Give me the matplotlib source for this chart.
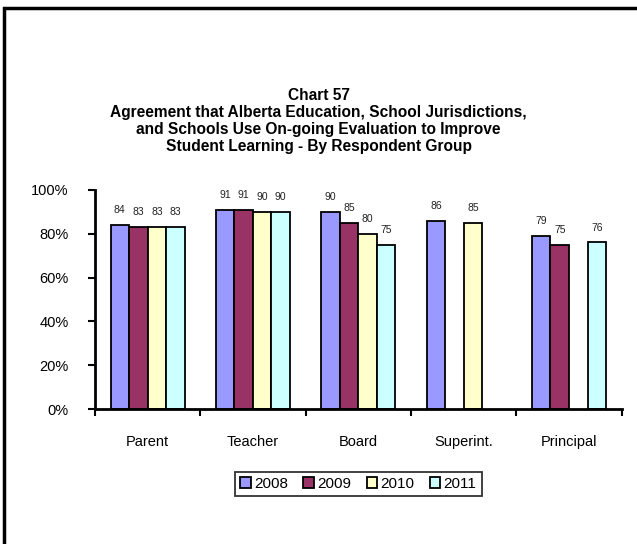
import numpy as np
import matplotlib.pyplot as plt
from matplotlib.patches import Rectangle

plt.rcParams["font.family"] = ["Liberation Sans", "DejaVu Sans"]

groups = ["Parent", "Teacher", "Board", "Superint.", "Principal"]
years = ["2008", "2009", "2010", "2011"]
values = {
    "2008": [84, 91, 90, 86, 79],
    "2009": [83, 91, 85, np.nan, 75],
    "2010": [83, 90, 80, 85, np.nan],
    "2011": [83, 90, 75, np.nan, 76],
}
colors = ["#9999FF", "#993366", "#FFFFCC", "#CCFFFF"]

fig = plt.figure(figsize=(6.37, 5.44), dpi=100)
ax = fig.add_axes([0.149, 0.248, 0.827, 0.403])

x = np.arange(len(groups))
width = 0.176
for i, (yr, col) in enumerate(zip(years, colors)):
    vals = np.array(values[yr], dtype=float)
    pos = x + (i - 1.5) * width
    ax.bar(pos, vals, width=width, color=col, edgecolor="black", linewidth=1.3, label=yr)
    for p, v in zip(pos, vals):
        if not np.isnan(v):
            ax.text(p, v + 4.5, f"{v:.0f}", ha="center", va="bottom", fontsize=7.5, color="#222222")

ax.set_xlim(-0.5, len(groups) - 0.5)
ax.set_ylim(0, 100)
ax.set_yticks(np.arange(0, 101, 20))
ax.set_yticklabels([f"{t}%" for t in range(0, 101, 20)], fontsize=10.5)
ax.set_xticks(x)
ax.set_xticklabels(groups, fontsize=10.5)
ax.tick_params(axis="x", length=0, pad=19)
ax.set_xticks(np.arange(-0.5, len(groups)), minor=True)
ax.tick_params(axis="x", which="minor", length=5, width=1.5, direction="out")
ax.tick_params(axis="y", length=5, width=1.5, direction="out", pad=14)
for s in ["top", "right"]:
    ax.spines[s].set_visible(False)
for s in ["left", "bottom"]:
    ax.spines[s].set_linewidth(2)

leg = ax.legend(loc="upper center", bbox_to_anchor=(0.5, -0.25), ncol=4, fontsize=11,
                frameon=True, fancybox=False, edgecolor="black", handlelength=0.7,
                handleheight=0.7, handletextpad=0.2, columnspacing=1.0,
                borderpad=0.35)
leg.get_frame().set_linewidth(1.3)

title = ("Chart 57\nAgreement that Alberta Education, School Jurisdictions,\n"
         "and Schools Use On-going Evaluation to Improve\nStudent Learning - By Respondent Group")
fig.text(0.5, 0.838, title, ha="center", va="top", fontsize=11.2, fontweight="bold",
         linespacing=1.16)

fig.patches.append(Rectangle((3.5 / 637, -0.1), 1.2, 1 - 7.5 / 544 + 0.1,
                             transform=fig.transFigure, fill=False,
                             edgecolor="black", linewidth=2.5))

fig.savefig("out.png", dpi=100)
